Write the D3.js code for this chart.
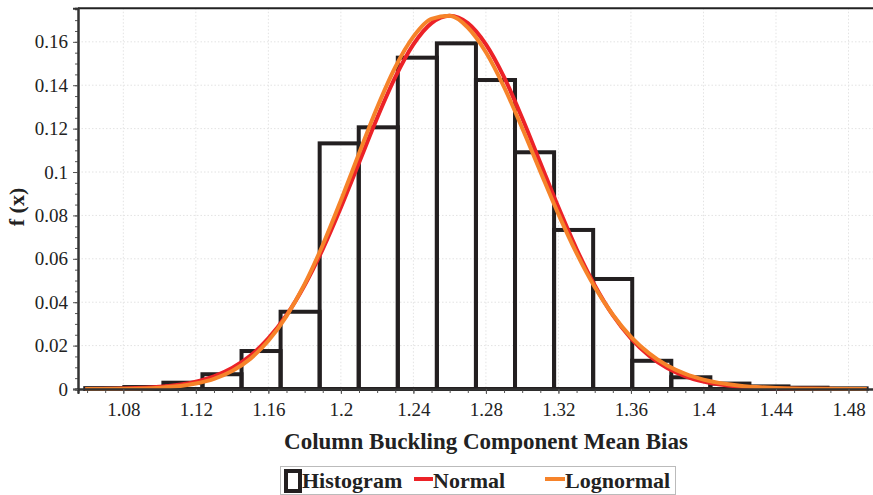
<!DOCTYPE html>
<html>
<head>
<meta charset="utf-8">
<script src="https://cdn.jsdelivr.net/npm/d3@7/dist/d3.min.js"></script>
<style>
  body { margin: 0; background: #fff; }
  svg { display: block; font-family: "Liberation Serif", "DejaVu Serif", serif; }
</style>
</head>
<body>
<svg id="chart" width="873" height="495"></svg>
<script>
// histogram bins (edges) and relative frequencies
var binEdges = [1.059, 1.08055, 1.1021, 1.12365, 1.1452, 1.16675, 1.1883, 1.20985, 1.2314, 1.25295,
                1.2745, 1.29605, 1.3176, 1.33915, 1.3607, 1.38225, 1.4038, 1.42535, 1.4469, 1.46845, 1.490];
var binFreq = [0.0004, 0.0009, 0.0029, 0.0068, 0.0175, 0.0356, 0.1132, 0.1206, 0.1527, 0.1593,
               0.1424, 0.1091, 0.0733, 0.0507, 0.0130, 0.0054, 0.0025, 0.0012, 0.0006, 0.0003];

// fitted curves
var curveX = [1.059, 1.08, 1.10, 1.12, 1.13, 1.14, 1.15, 1.16, 1.17, 1.18, 1.19, 1.20, 1.21, 1.22, 1.23,
              1.24, 1.25, 1.26, 1.27, 1.28, 1.29, 1.30, 1.31, 1.32, 1.33, 1.34, 1.35, 1.36, 1.37, 1.38,
              1.39, 1.40, 1.42, 1.44, 1.46, 1.49];
var normalY = [0.00005, 0.00026, 0.00103, 0.0034, 0.00585, 0.00965, 0.0153, 0.0233, 0.0340, 0.0478, 0.0645,
               0.0837, 0.1043, 0.1249, 0.1437, 0.1588, 0.1686, 0.1720, 0.1686, 0.1588, 0.1437, 0.1249,
               0.1043, 0.0837, 0.0645, 0.0478, 0.0340, 0.0233, 0.0153, 0.00965, 0.00585, 0.0034, 0.00103,
               0.00026, 0.00006, 0.000004];
var lognormalY = [0.00002, 0.00011, 0.0006, 0.0025, 0.00468, 0.00828, 0.0139, 0.0222, 0.0336, 0.0483, 0.0664,
                  0.0869, 0.1085, 0.1297, 0.1483, 0.1624, 0.1706, 0.1720, 0.1666, 0.1552, 0.1392, 0.1203,
                  0.1003, 0.0806, 0.0626, 0.0470, 0.0342, 0.0240, 0.0164, 0.0108, 0.00693, 0.00431, 0.00153,
                  0.00049, 0.00014, 0.00002];

var xMajor = [1.08, 1.12, 1.16, 1.2, 1.24, 1.28, 1.32, 1.36, 1.4, 1.44, 1.48];
var yMajor = [0, 0.02, 0.04, 0.06, 0.08, 0.1, 0.12, 0.14, 0.16];

var svg = d3.select("#chart");
var mLeft = 78, mTop = 8.2, mBottom = 389, mRight = 875.7;

var x = d3.scaleLinear().domain([1.055, 1.495]).range([mLeft, mRight]);
var y = d3.scaleLinear().domain([0, 0.1755]).range([mBottom, mTop]);

var xMinor = d3.range(106, 150).map(function(d){ return d / 100; });
var yMinor = d3.range(0, 36).map(function(d){ return d * 0.005; });

// grid
var grid = svg.append("g").attr("class", "grid");
grid.selectAll(".gx").data(xMajor).enter().append("line")
  .attr("x1", function(d){ return x(d); }).attr("x2", function(d){ return x(d); })
  .attr("y1", mTop).attr("y2", mBottom)
  .attr("stroke", "#e3e3e3").attr("stroke-dasharray", "1.5,2");
grid.selectAll(".gy").data(yMajor.slice(1)).enter().append("line")
  .attr("x1", mLeft).attr("x2", mRight)
  .attr("y1", function(d){ return y(d); }).attr("y2", function(d){ return y(d); })
  .attr("stroke", "#e3e3e3").attr("stroke-dasharray", "1.5,2");

// top border
svg.append("line").attr("x1", mLeft).attr("x2", mRight).attr("y1", mTop).attr("y2", mTop)
  .attr("stroke", "#222").attr("stroke-width", 2);

// histogram
var bins = binFreq.map(function(f, i){ return {x0: binEdges[i], x1: binEdges[i + 1], f: f}; });
svg.append("g").selectAll("rect").data(bins).enter().append("rect")
  .attr("x", function(d){ return x(d.x0); })
  .attr("y", function(d){ return y(d.f); })
  .attr("width", function(d){ return x(d.x1) - x(d.x0); })
  .attr("height", function(d){ return y(0) - y(d.f); })
  .attr("fill", "none").attr("stroke", "#231f20").attr("stroke-width", 4);

// curves
var line = d3.line().curve(d3.curveMonotoneX)
  .x(function(d){ return x(d[0]); }).y(function(d){ return y(d[1]); });
svg.append("path").datum(curveX.map(function(v, i){ return [v, normalY[i]]; }))
  .attr("d", line).attr("fill", "none").attr("stroke", "#ec2227").attr("stroke-width", 4);
svg.append("path").datum(curveX.map(function(v, i){ return [v, lognormalY[i]]; }))
  .attr("d", line).attr("fill", "none").attr("stroke", "#f6832a").attr("stroke-width", 4);

// axes
var fmt = d3.format("~g");
var xAxisMinor = svg.append("g").attr("transform", "translate(0," + mBottom + ")")
  .call(d3.axisBottom(x).tickValues(xMinor).tickSize(4).tickFormat(""));
var xAxis = svg.append("g").attr("transform", "translate(0," + mBottom + ")")
  .call(d3.axisBottom(x).tickValues(xMajor).tickSize(5).tickPadding(9).tickFormat(fmt));
var yAxisMinor = svg.append("g").attr("transform", "translate(" + mLeft + ",0)")
  .call(d3.axisLeft(y).tickValues(yMinor).tickSize(3).tickFormat(""));
var yAxis = svg.append("g").attr("transform", "translate(" + mLeft + ",0)")
  .call(d3.axisLeft(y).tickValues(yMajor).tickSize(5).tickPadding(5).tickFormat(fmt));

[xAxisMinor, xAxis, yAxisMinor, yAxis].forEach(function(a){
  a.select(".domain").attr("stroke", "#333").attr("stroke-width", 2);
  a.selectAll(".tick line").attr("stroke", "#555");
  a.selectAll("text").attr("fill", "#222").style("font-size", "19px")
    .style("font-family", "Liberation Serif");
});

// axis titles
svg.append("text").attr("x", 486).attr("y", 449).attr("text-anchor", "middle")
  .style("font-size", "23px").style("font-weight", "bold").attr("fill", "#222")
  .text("Column Buckling Component Mean Bias");
svg.append("text").attr("transform", "translate(24,207) rotate(-90)").attr("text-anchor", "middle")
  .style("font-size", "22px").style("font-weight", "bold").attr("fill", "#222")
  .text("f (x)");

// legend
var lg = svg.append("g");
lg.append("rect").attr("x", 280.5).attr("y", 466.5).attr("width", 395).attr("height", 28)
  .attr("fill", "#fff").attr("stroke", "#bbb");
lg.append("rect").attr("x", 286).attr("y", 471).attr("width", 14).attr("height", 20)
  .attr("fill", "none").attr("stroke", "#231f20").attr("stroke-width", 4);
lg.append("line").attr("x1", 414).attr("x2", 433).attr("y1", 479).attr("y2", 479)
  .attr("stroke", "#ec2227").attr("stroke-width", 4);
lg.append("line").attr("x1", 545).attr("x2", 565).attr("y1", 479).attr("y2", 479)
  .attr("stroke", "#f6832a").attr("stroke-width", 4);
var legendText = [["Histogram", 302], ["Normal", 433], ["Lognormal", 565]];
lg.selectAll(".lt").data(legendText).enter().append("text")
  .attr("x", function(d){ return d[1]; }).attr("y", 488)
  .style("font-size", "22px").style("font-weight", "bold").attr("fill", "#222")
  .text(function(d){ return d[0]; });
</script>
</body>
</html>
